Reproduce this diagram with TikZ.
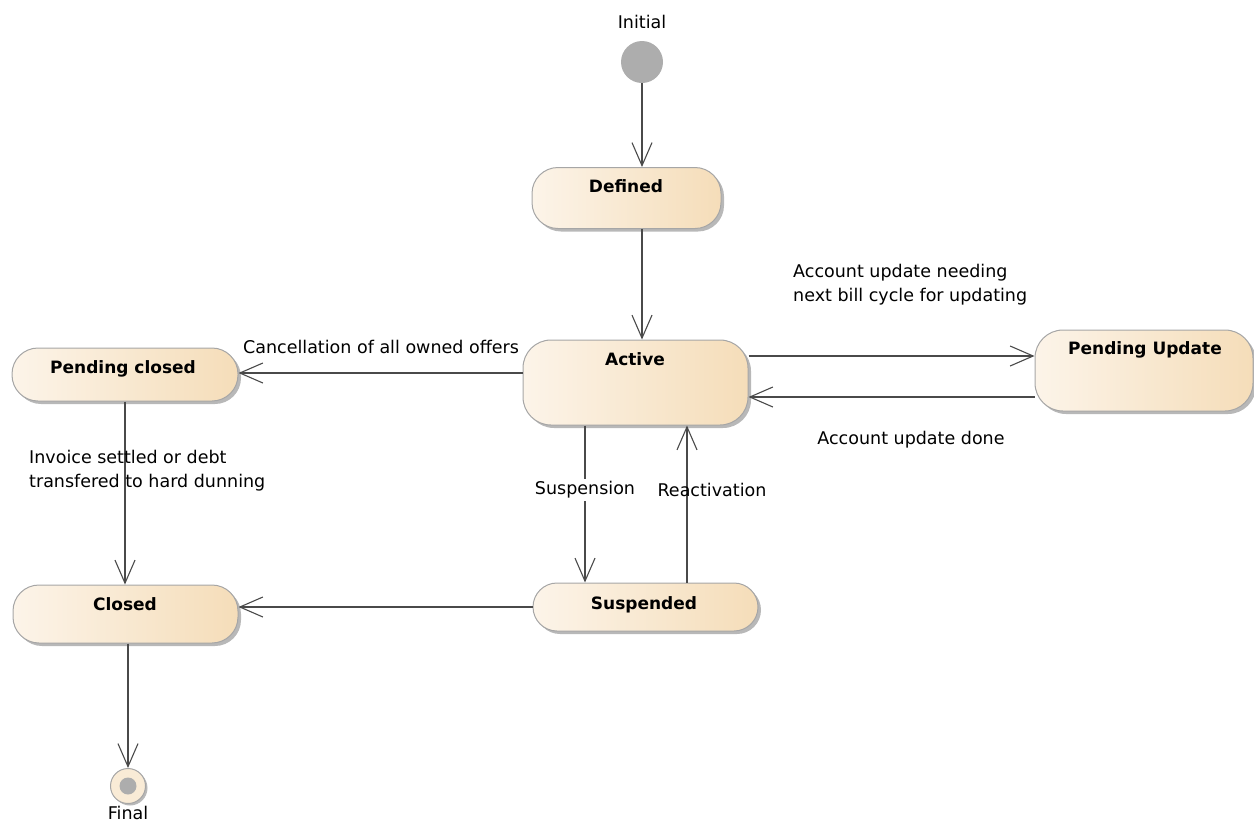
\documentclass[tikz,border=0pt]{standalone}
\usepackage{fontspec}
\setmainfont{DejaVu Sans}
\usetikzlibrary{arrows.meta,shadows,calc}
\definecolor{stleft}{HTML}{FCF4E9}
\definecolor{stright}{HTML}{F5DDB9}
\definecolor{stborder}{HTML}{A6A6A6}
\definecolor{lineclr}{HTML}{4A4A4A}
\definecolor{initclr}{HTML}{ADADAD}
\begin{document}
\begin{tikzpicture}[x=1pt,y=-1pt,
  font=\fontsize{17.5}{24}\selectfont,
  statebox/.style={draw=stborder,line width=1pt,left color=stleft,right color=stright,
     rounded corners=26pt,inner sep=0pt,
     drop shadow={shadow xshift=3pt,shadow yshift=-3pt,fill=black!28,opacity=1}},
  stext/.style={font=\fontsize{17}{24}\selectfont\bfseries,anchor=base,inner sep=0pt},
  etext/.style={inner sep=1pt},
  trans/.style={draw=lineclr,line width=1.1pt,-{Straight Barb[length=23pt,width=20pt,line width=1.1pt]}}]
\useasboundingbox (0,0) rectangle (1254,823);

% states
\node[statebox,minimum width=189pt,minimum height=61pt] (def) at (626.5,198) {};
\node[stext] (tdef) at (626,192) {Defined};
\node[statebox,minimum width=225pt,minimum height=85pt,rounded corners=28pt] (act) at (635.5,382.5) {};
\node[stext] (tact) at (635,365) {Active};
\node[statebox,minimum width=226pt,minimum height=53pt] (pc) at (125,374.5) {};
\node[stext] (tpc) at (123,373) {Pending closed};
\node[statebox,minimum width=218pt,minimum height=81pt,rounded corners=28pt] (pu) at (1144,370.5) {};
\node[stext] (tpu) at (1145,354) {Pending Update};
\node[statebox,minimum width=225pt,minimum height=58pt] (cl) at (125.5,614) {};
\node[stext] (tcl) at (125,610) {Closed};
\node[statebox,minimum width=225pt,minimum height=48pt,rounded corners=24pt] (susp) at (645.5,607) {};
\node[stext] (tsusp) at (644,609) {Suspended};

% pseudo states
\node[circle,fill=initclr,minimum size=42pt,inner sep=0pt] (init) at (642,62) {};
\node[etext] (tinit) at (642,22) {Initial};
\node[circle,draw=stborder,line width=1pt,fill=stleft!60!stright,minimum size=35pt,inner sep=0pt,
  drop shadow={shadow xshift=2pt,shadow yshift=-2pt,fill=black!28,opacity=1}] (fin) at (128,786) {};
\node[circle,fill=initclr,minimum size=17pt,inner sep=0pt] (find) at (fin) {};
\node[etext] (tfin) at (128,813) {Final};

% transitions
\draw[trans] (init.south) -- (init.south |- def.north);
\draw[trans] (init |- def.south) -- (init |- act.north);
\draw[trans] ([yshift=9.5pt]act.west) -- ([yshift=9.5pt]act.west -| pc.east);
\draw[trans] ([yshift=26.5pt]act.east) -- ([yshift=26.5pt]act.east -| pu.west);
\draw[trans] ([yshift=-26.5pt]pu.west) -- ([yshift=-26.5pt]pu.west -| act.east);
\draw[trans] (pc.south) -- (pc.south |- cl.north);
\draw[trans] ([xshift=-50.5pt]act.south) -- ([xshift=-50.5pt]act.south |- susp.north);
\draw[trans] ([xshift=51.5pt]act.south |- susp.north) -- ([xshift=51.5pt]act.south);
\draw[trans] (susp.west) -- (susp.west -| cl.east);
\draw[trans] (fin |- cl.south) -- (fin.north);

% transition labels
\node[etext] (lcanc) at (381,347) {Cancellation of all owned offers};
\node[etext,anchor=west,align=left] (lupd) at (792,285) {Account update needing\\next bill cycle for updating};
\node[etext] (ldone) at (911,440) {Account update done};
\node[etext,anchor=west,align=left] (linv) at (28,470.5) {Invoice settled or debt\\transfered to hard dunning};
\node[etext,fill=white,inner sep=3pt] (lsusp) at (585,490) {Suspension};
\node[etext] (lreact) at (712,490) {Reactivation};
\end{tikzpicture}
\end{document}
